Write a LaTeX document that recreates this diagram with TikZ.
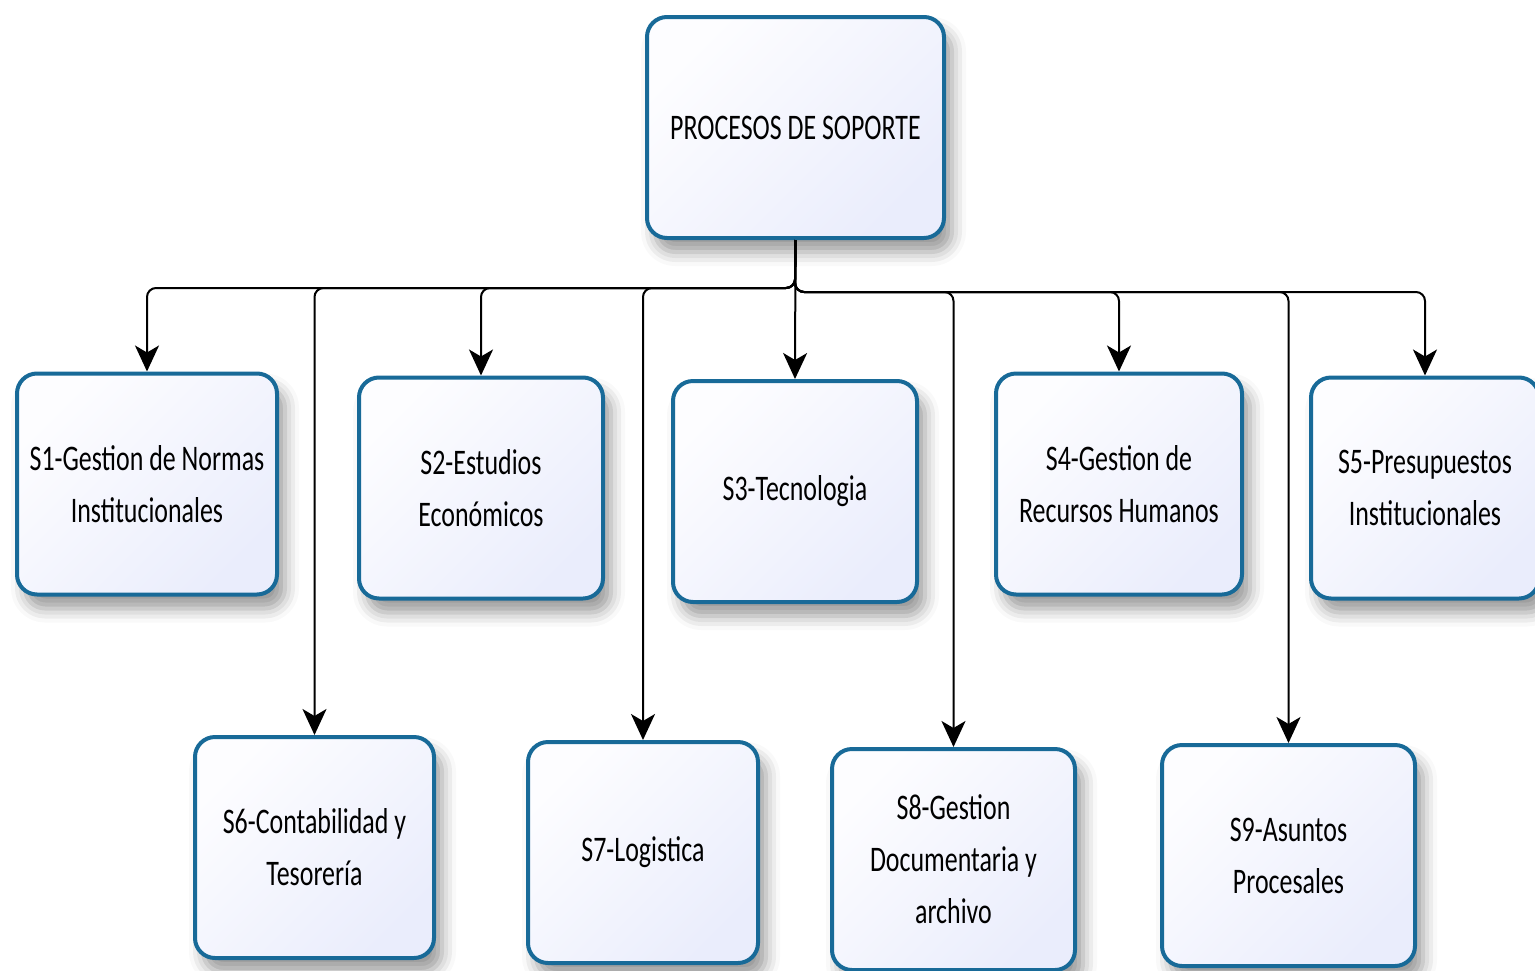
\documentclass[tikz,border=0pt]{standalone}
\usepackage{fontspec}
\setmainfont{Carlito}[FakeStretch=0.72]
\usetikzlibrary{arrows.meta,shadows.blur}
\definecolor{boxline}{RGB}{24,106,152}
\definecolor{boxfillA}{RGB}{253,253,255}
\definecolor{boxfillB}{RGB}{234,237,252}
\tikzset{
  proc/.style={draw=boxline, line width=4pt, rounded corners=20pt,
    minimum height=221pt, inner sep=0pt, align=center,
    font=\fontsize{36}{52}\selectfont,
    top color=boxfillA, bottom color=boxfillB, shading angle=45,
    blur shadow={shadow xshift=8pt, shadow yshift=-14pt,
      shadow blur radius=14pt, shadow opacity=40}},
  conn/.style={draw=black, line width=2pt, rounded corners=9pt,
    -{Stealth[length=26pt,width=24pt,inset=7pt]}},
}
\begin{document}
\begin{tikzpicture}[x=1pt,y=-1pt]
\useasboundingbox (0,0) rectangle (1535,970);

% root
\node[proc, minimum width=297pt] (top) at (795.5,127.5) {PROCESOS DE SOPORTE};

% first row
\node[proc, minimum width=260pt] (s1) at (147,484) {S1-Gestion de Normas\\Institucionales};
\node[proc, minimum width=244pt] (s2) at (481,488) {S2-Estudios\\Económicos};
\node[proc, minimum width=244pt] (s3) at (795,491.5) {S3-Tecnologia};
\node[proc, minimum width=246pt] (s4) at (1119,484) {S4-Gestion de\\Recursos Humanos};
\node[proc, minimum width=228pt] (s5) at (1425,488) {S5-Presupuestos\\Institucionales};

% second row
\node[proc, minimum width=239pt] (s6) at (314.5,847.5) {S6-Contabilidad y\\Tesorería};
\node[proc, minimum width=230pt] (s7) at (643,852.5) {S7-Logistica};
\node[proc, minimum width=243pt] (s8) at (953.5,859.5) {S8-Gestion\\Documentaria y\\archivo};
\node[proc, minimum width=253pt] (s9) at (1288.5,855.5) {S9-Asuntos\\Procesales};

% bus junctions below the root
\coordinate (jl) at (795,288);
\coordinate (jr) at (795,292);

\draw[conn] (top.south) -- (s3.north);
\foreach \c in {s1,s6,s2,s7}
  \draw[conn] (top.south) -- (jl) -| (\c.north);
\foreach \c in {s8,s4,s9,s5}
  \draw[conn] (top.south) -- (jr) -| (\c.north);
\end{tikzpicture}
\end{document}
